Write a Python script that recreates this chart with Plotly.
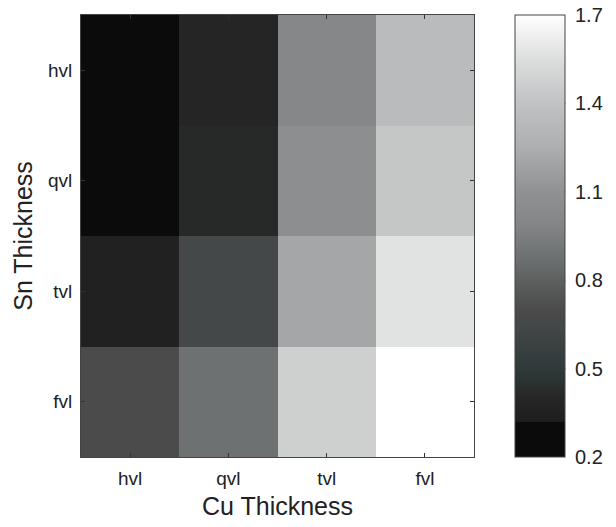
import plotly.graph_objects as go

cu_labels = ["hvl", "qvl", "tvl", "fvl"]
sn_labels = ["hvl", "qvl", "tvl", "fvl"]

# rows: Sn thickness (top to bottom), cols: Cu thickness
row_hvl = [0.25, 0.39, 1.00, 1.35]
row_qvl = [0.27, 0.41, 1.07, 1.42]
row_tvl = [0.35, 0.65, 1.21, 1.57]
row_fvl = [0.70, 0.88, 1.47, 1.70]
z_values = [row_hvl, row_qvl, row_tvl, row_fvl]

cbar_ticks = [0.2, 0.5, 0.8, 1.1, 1.4, 1.7]
zmin, zmax = 0.2, 1.7

colorscale = [
    [0.0, "#0b0b0b"],
    [0.078, "#0b0b0b"],
    [0.08, "#1e1e1e"],
    [0.13, "#262626"],
    [0.2, "#2f3a3a"],
    [0.3, "#444848"],
    [0.33, "#4a4a4a"],
    [0.45, "#6c7070"],
    [0.53, "#858687"],
    [0.6, "#909192"],
    [0.7, "#acaeaf"],
    [0.8, "#c1c2c3"],
    [0.9, "#dcdddd"],
    [1.0, "#ffffff"],
]

FONT = "Liberation Sans, Arial, sans-serif"
W, H = 616, 527
L, R, T, B = 81, 135, 15, 66
pw = W - L - R
cb_left_px, cb_thick = 523, 50

fig = go.Figure(
    go.Heatmap(
        z=z_values,
        x=cu_labels,
        y=sn_labels,
        zmin=zmin,
        zmax=zmax,
        colorscale=colorscale,
        colorbar=dict(
            x=(cb_left_px - L) / pw,
            xanchor="left",
            xpad=0,
            ypad=0,
            y=0.5,
            yanchor="middle",
            len=1,
            lenmode="fraction",
            thickness=cb_thick,
            outlinewidth=1,
            outlinecolor="#444",
            tickvals=cbar_ticks,
            ticktext=[f"{v:.1f}" for v in cbar_ticks],
            ticks="outside",
            ticklen=6,
            tickcolor="rgba(0,0,0,0)",
            tickfont=dict(family=FONT, size=20, color="#222"),
        ),
    )
)

# inside tick marks on both sides of the colorbar
x0 = (cb_left_px - L) / pw
x1 = (cb_left_px + cb_thick + 1 - L) / pw
tl = 4 / pw
for v in cbar_ticks[1:-1]:
    yp = (v - zmin) / (zmax - zmin)
    for xa, xb in ((x0, x0 + tl), (x1 - tl, x1)):
        fig.add_shape(type="line", xref="paper", yref="paper",
                      x0=xa, x1=xb, y0=yp, y1=yp,
                      line=dict(color="#333", width=1))

axis_common = dict(
    showline=True,
    linecolor="#444",
    linewidth=1,
    mirror="ticks",
    ticks="inside",
    ticklen=4,
    tickcolor="#333",
    showgrid=False,
    zeroline=False,
    ticklabelstandoff=4,
    tickfont=dict(family=FONT, size=19, color="#222"),
)

fig.update_layout(
    width=W,
    height=H,
    margin=dict(l=L, r=R, t=T, b=B),
    paper_bgcolor="white",
    plot_bgcolor="white",
    xaxis=dict(
        **axis_common,
        title=dict(text="Cu Thickness", font=dict(family=FONT, size=25, color="#222"), standoff=9),
    ),
    yaxis=dict(
        **axis_common,
        autorange="reversed",
        title=dict(text="Sn Thickness", font=dict(family=FONT, size=25, color="#222"), standoff=8),
    ),
)

fig.write_html("out.html")
